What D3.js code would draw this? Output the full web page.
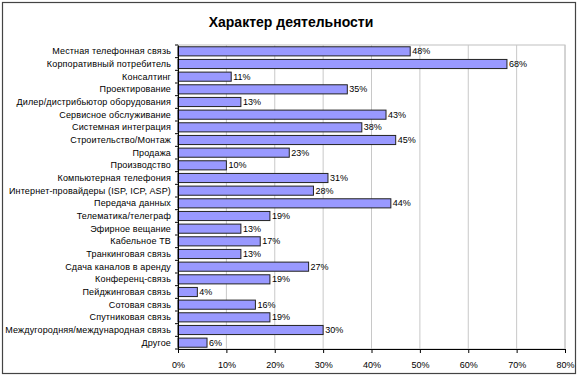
<!DOCTYPE html>
<html>
<head>
<meta charset="utf-8">
<script src="https://cdn.jsdelivr.net/npm/d3@7"></script>
<style>
  body { margin: 0; background: #fff; }
  text { font-family: Arial, "Liberation Sans", sans-serif; }
</style>
</head>
<body>
<div class="canvas"></div>
<script>
const categories = [
    'Местная телефонная связь',
    'Корпоративный потребитель',
    'Консалтинг',
    'Проектирование',
    'Дилер/дистрибьютор оборудования',
    'Сервисное обслуживание',
    'Системная интеграция',
    'Строительство/Монтаж',
    'Продажа',
    'Производство',
    'Компьютерная телефония',
    'Интернет-провайдеры (ISP, ICP, ASP)',
    'Передача данных',
    'Телематика/телеграф',
    'Эфирное вещание',
    'Кабельное ТВ',
    'Транкинговая связь',
    'Сдача каналов в аренду',
    'Конференц-связь',
    'Пейджинговая связь',
    'Сотовая связь',
    'Спутниковая связь',
    'Междугородняя/международная связь',
    'Другое'
]
const values = [48, 68, 11, 35, 13, 43, 38, 45, 23, 10, 31, 28, 44, 19, 13, 17, 13, 27, 19, 4, 16, 19, 30, 6]
const xTicks = [0, 10, 20, 30, 40, 50, 60, 70, 80]
const title = 'Характер деятельности'

const data = categories.map((c, i) => ({name: c, value: values[i]}))

const width = 580
const height = 378
const margin = {top: 45, right: 15, bottom: 29, left: 178}
const graphWidth = width - margin.left - margin.right
const graphHeight = height - margin.top - margin.bottom

const svg = d3.select('.canvas')
    .append('svg')
    .attr('width', width)
    .attr('height', height)

// outer chart frame
svg.append('rect')
    .attr('x', 2.5).attr('y', 2.5)
    .attr('width', 573).attr('height', 371)
    .attr('fill', '#fff')
    .attr('stroke', '#444')
    .attr('stroke-width', 1.2)

svg.append('text')
    .attr('x', 291)
    .attr('y', 27)
    .attr('text-anchor', 'middle')
    .attr('font-size', 14)
    .attr('font-weight', 'bold')
    .text(title)

const graph = svg.append('g')
    .attr('transform', `translate(${margin.left}, ${margin.top})`)

const x = d3.scaleLinear()
    .domain([0, 80])
    .range([0, graphWidth])

const y = d3.scaleBand()
    .domain(categories)
    .range([0, graphHeight])
    .paddingInner(0.28)
    .paddingOuter(0.14)

// plot area border (top/right) and gridlines
graph.append('rect')
    .attr('width', graphWidth)
    .attr('height', graphHeight)
    .attr('fill', 'none')
    .attr('stroke', '#c0c0c0')

graph.selectAll('line.grid')
    .data(xTicks.slice(1))
    .enter()
    .append('line')
    .attr('class', 'grid')
    .attr('x1', d => x(d)).attr('x2', d => x(d))
    .attr('y1', 0).attr('y2', graphHeight)
    .attr('stroke', '#c8c8c8')

// bars
graph.selectAll('rect.bar')
    .data(data)
    .enter()
    .append('rect')
    .attr('class', 'bar')
    .attr('x', 0)
    .attr('y', d => y(d.name))
    .attr('width', d => x(d.value))
    .attr('height', y.bandwidth())
    .attr('fill', '#9999ff')
    .attr('stroke', '#222')
    .attr('stroke-width', 1)

// value labels
graph.selectAll('text.val')
    .data(data)
    .enter()
    .append('text')
    .attr('class', 'val')
    .attr('x', d => x(d.value) + 2)
    .attr('y', d => y(d.name) + y.bandwidth() / 2)
    .attr('dy', '0.35em')
    .attr('font-size', 9)
    .text(d => d.value + '%')

// axes
const xAxis = d3.axisBottom(x)
    .tickValues(xTicks)
    .tickSize(4)
    .tickSizeOuter(0)
    .tickFormat(d => d + '%')

const xAxisGroup = graph.append('g')
    .attr('transform', `translate(0, ${graphHeight})`)
    .call(xAxis)
xAxisGroup.select('.domain').attr('stroke', '#000')
xAxisGroup.selectAll('.tick line').attr('stroke', '#000')
xAxisGroup.selectAll('text')
    .attr('font-size', 9)
    .attr('fill', '#000')
    .attr('dy', '1.3em')
    .attr('font-family', 'Arial, "Liberation Sans", sans-serif')

const yAxis = d3.axisLeft(y)
    .tickSize(0)
    .tickPadding(7)

const yAxisGroup = graph.append('g').call(yAxis)
yAxisGroup.select('.domain').attr('stroke', '#000')
yAxisGroup.selectAll('text')
    .attr('font-size', 9)
    .attr('letter-spacing', 0.15)
    .attr('fill', '#000')
    .attr('font-family', 'Arial, "Liberation Sans", sans-serif')

// category tick marks at band boundaries
graph.selectAll('line.ctick')
    .data(d3.range(categories.length + 1))
    .enter()
    .append('line')
    .attr('class', 'ctick')
    .attr('x1', -3).attr('x2', 0)
    .attr('y1', i => i * graphHeight / categories.length)
    .attr('y2', i => i * graphHeight / categories.length)
    .attr('stroke', '#000')
</script>
</body>
</html>
